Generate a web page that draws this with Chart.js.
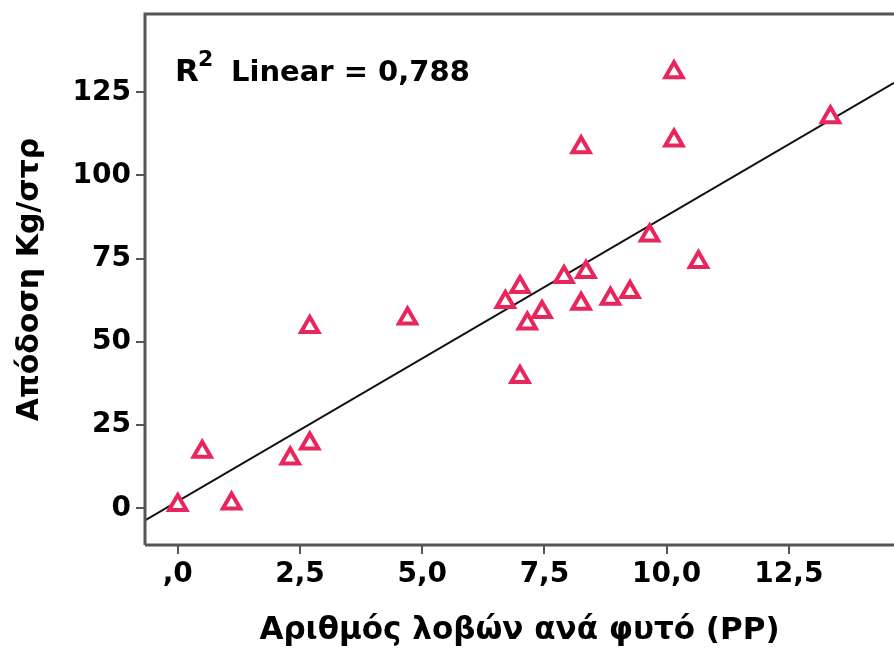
<!DOCTYPE html>
<html>
<head>
<meta charset="utf-8">
<script src="https://cdn.jsdelivr.net/npm/chart.js@4"></script>
<style>
  html, body { margin: 0; padding: 0; background: #fff; overflow: hidden; }
  canvas { display: block; }
</style>
</head>
<body>
<canvas id="myChart" width="894" height="650"></canvas>
<script>
// Data
const podsPerPlant = [0, 0.5, 1.1, 2.3, 2.7, 2.7, 4.7, 6.7, 7.0, 7.0, 7.15, 7.45, 7.9, 8.25, 8.25, 8.35, 8.85, 9.25, 9.65, 10.15, 10.15, 10.65, 13.35];
const yieldKg = [1, 17, 1.5, 15, 19.5, 54.5, 57, 62, 66.5, 39.5, 55.5, 59, 69.5, 108.5, 61.5, 71, 63, 65, 82, 131, 110.5, 74, 117.5];
const fitIntercept = 2.15;
const fitSlope = 8.58;
const xTickValues = [0, 2.5, 5, 7.5, 10, 12.5];
const xTickLabels = [',0', '2,5', '5,0', '7,5', '10,0', '12,5'];
const yTickValues = [0, 25, 50, 75, 100, 125];
const yTickLabels = ['0', '25', '50', '75', '100', '125'];

const xMin = -0.67, xMax = 14.65;
const yMin = -11, yMax = 148.5;

const points = podsPerPlant.map((x, i) => ({ x: x, y: yieldKg[i] }));
const fitLine = [xMin, xMax].map(x => ({ x: x, y: fitIntercept + fitSlope * x }));

const axisColor = '#555';
const tickFont = '"DejaVu Sans", sans-serif';

// frame + R² label
const framePlugin = {
    id: 'frame',
    afterDraw(chart) {
        const { ctx, chartArea } = chart;
        ctx.save();
        ctx.strokeStyle = axisColor;
        ctx.lineWidth = 3;
        ctx.beginPath();
        ctx.moveTo(chartArea.left, chartArea.bottom);
        ctx.lineTo(chartArea.left, chartArea.top);
        ctx.lineTo(chartArea.right + 2, chartArea.top);
        ctx.moveTo(chartArea.left, chartArea.bottom);
        ctx.lineTo(chartArea.right + 2, chartArea.bottom);
        ctx.stroke();

        ctx.fillStyle = '#000';
        ctx.textBaseline = 'alphabetic';
        ctx.font = 'bold 31px ' + tickFont;
        ctx.fillText('R', 175, 81);
        ctx.font = 'bold 22px ' + tickFont;
        ctx.fillText('2', 198, 66);
        ctx.font = 'bold 29px ' + tickFont;
        ctx.fillText('Linear = 0,788', 231, 81);
        ctx.restore();
    }
};

const ctx = document.getElementById('myChart').getContext('2d');
const chart = new Chart(ctx, {
    type: 'scatter',
    data: {
        datasets: [
            {
                label: 'Fit',
                type: 'line',
                data: fitLine,
                borderColor: '#111',
                borderWidth: 2,
                pointRadius: 0,
                fill: false,
                order: 2
            },
            {
                label: 'Απόδοση',
                data: points,
                pointStyle: 'triangle',
                pointRadius: 10,
                pointBorderWidth: 4,
                borderColor: '#e8265c',
                backgroundColor: '#fff',
                pointBackgroundColor: '#fff',
                order: 1
            }
        ]
    },
    options: {
        responsive: false,
        animation: false,
        layout: { autoPadding: false, padding: { top: 14, right: 0, left: 0, bottom: 0 } },
        plugins: {
            legend: { display: false },
            tooltip: { enabled: false }
        },
        scales: {
            x: {
                type: 'linear',
                min: xMin,
                max: xMax,
                afterBuildTicks: s => { s.ticks = xTickValues.map(v => ({ value: v })); },
                afterFit: s => { s.height = 105; s.paddingLeft = 0; s.paddingRight = 0; },
                ticks: {
                    callback: (v, i) => xTickLabels[i],
                    color: '#000',
                    font: { family: tickFont, size: 28, weight: 'bold' },
                    padding: 4,
                    maxRotation: 0
                },
                grid: { drawOnChartArea: false, drawTicks: true, tickLength: 9, color: axisColor, lineWidth: 2 },
                border: { display: false },
                title: {
                    display: true,
                    text: 'Αριθμός λοβών ανά φυτό (PP)',
                    color: '#000',
                    font: { family: tickFont, size: 31, weight: 'bold' },
                    padding: { top: 0, bottom: 0 }
                }
            },
            y: {
                type: 'linear',
                min: yMin,
                max: yMax,
                afterBuildTicks: s => { s.ticks = yTickValues.map(v => ({ value: v })); },
                afterFit: s => { s.width = 145; s.paddingTop = 0; s.paddingBottom = 0; },
                ticks: {
                    callback: (v, i) => yTickLabels[i],
                    color: '#000',
                    font: { family: tickFont, size: 28, weight: 'bold' },
                    padding: 5
                },
                grid: { drawOnChartArea: false, drawTicks: true, tickLength: 9, color: axisColor, lineWidth: 2 },
                border: { display: false },
                title: {
                    display: true,
                    text: 'Απόδοση Kg/στρ',
                    color: '#000',
                    font: { family: tickFont, size: 30, weight: 'bold' },
                    padding: { top: 12, bottom: 0 }
                }
            }
        }
    },
    plugins: [framePlugin]
});
</script>
</body>
</html>
